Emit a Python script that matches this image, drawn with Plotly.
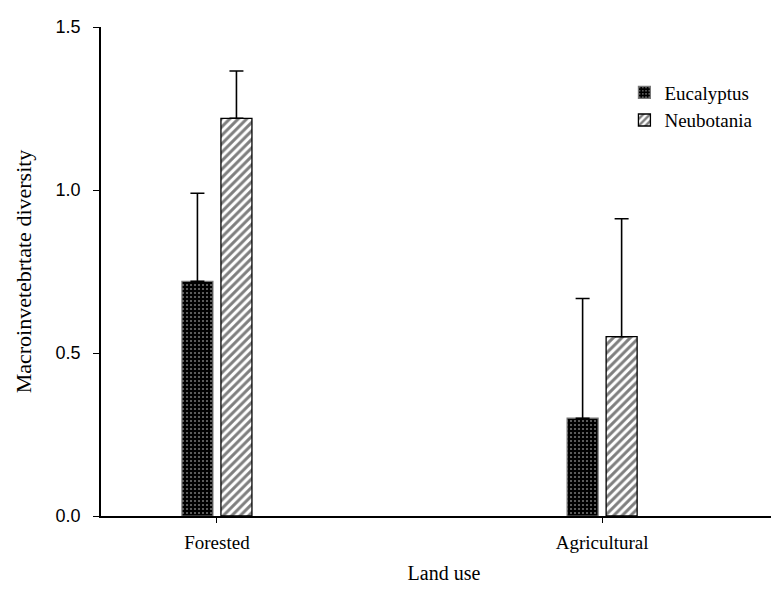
import plotly.graph_objects as go

categories = ["Forested", "Agricultural"]
euc_mean = [0.72, 0.30]
euc_err = [0.27, 0.367]
neu_mean = [1.22, 0.55]
neu_err = [0.145, 0.362]
y_ticks = [0.0, 0.5, 1.0, 1.5]
y_tick_labels = ["0.0", "0.5", "1.0", "1.5"]

xpos = list(range(len(categories)))
bar_w = 0.0805
gap = 0.0208

fig = go.Figure()
fig.add_trace(go.Bar(
    x=xpos, y=euc_mean, name="Eucalyptus",
    width=bar_w, offset=-(bar_w + gap / 2),
    marker=dict(color="black",
                line=dict(color="#777777", width=1.2),
                pattern=dict(shape=".", bgcolor="black", fgcolor="#e0e0e0",
                             size=4, solidity=0.22, fillmode="overlay")),
    error_y=dict(type="data", array=euc_err, symmetric=False, arrayminus=[0, 0],
                 color="black", thickness=1.6, width=7),
))
fig.add_trace(go.Bar(
    x=xpos, y=neu_mean, name="Neubotania",
    width=bar_w, offset=gap / 2,
    marker=dict(color="white",
                line=dict(color="black", width=1.3),
                pattern=dict(shape="/", bgcolor="white", fgcolor="black",
                             size=6, solidity=0.5, fillmode="overlay")),
    error_y=dict(type="data", array=neu_err, symmetric=False, arrayminus=[0, 0],
                 color="black", thickness=1.6, width=7),
))

fig.update_layout(
    width=779, height=590,
    margin=dict(l=93, r=0, t=19, b=82),
    paper_bgcolor="white", plot_bgcolor="white",
    barmode="overlay",
    showlegend=True,
    legend=dict(x=0.763, y=0.905, xanchor="left", yanchor="top",
                font=dict(family="Liberation Serif", size=19, color="black"),
                bgcolor="rgba(0,0,0,0)", traceorder="normal", tracegroupgap=0),
    xaxis=dict(
        tickmode="array", tickvals=xpos, ticktext=categories,
        range=[-0.301, 1.48], automargin=False,
        showline=True, linecolor="black", linewidth=2,
        ticks="outside", ticklen=5, tickcolor="black", tickwidth=1,
        tickfont=dict(family="Liberation Serif", size=19, color="black"),
        ticklabelstandoff=3,
        showgrid=False, zeroline=False,
        title=dict(text="Land use", standoff=14,
                   font=dict(family="Liberation Serif", size=20, color="black")),
    ),
    yaxis=dict(
        range=[0, 1.5], automargin=False,
        tickmode="array", tickvals=y_ticks, ticktext=y_tick_labels,
        showline=True, linecolor="black", linewidth=1.5,
        ticks="outside", ticklen=6, tickcolor="black", tickwidth=1,
        tickfont=dict(family="Liberation Sans", size=18, color="black"),
        ticklabelstandoff=9,
        showgrid=False, zeroline=False,
        title=dict(text="Macroinvetebrtate diversity", standoff=18,
                   font=dict(family="Liberation Serif", size=22, color="black")),
    ),
)

fig.write_html("out.html")
